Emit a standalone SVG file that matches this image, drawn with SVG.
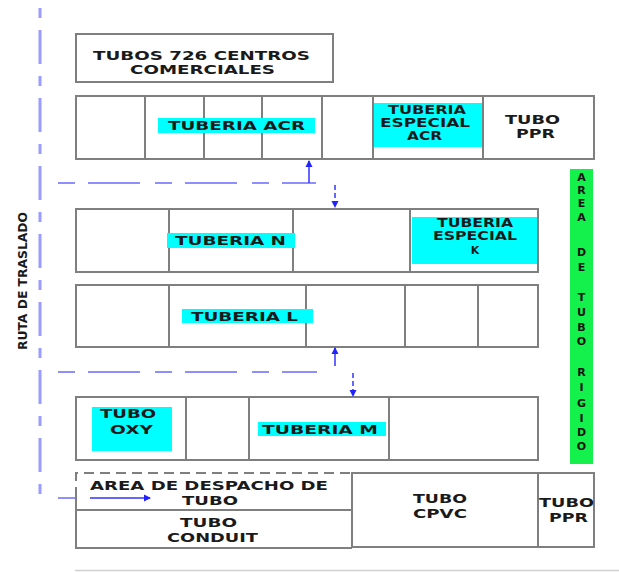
<svg xmlns="http://www.w3.org/2000/svg" width="619" height="572" viewBox="0 0 619 572">
<defs>
<style>
.box{fill:#fff;stroke:#7f7f7f;stroke-width:2}
.div{stroke:#7f7f7f;stroke-width:2;fill:none}
.cy{fill:#00ffff}
.t{font-family:"DejaVu Sans","Liberation Sans",sans-serif;font-weight:bold;font-size:12px;fill:#1a1a1a}
.g{font-family:"DejaVu Sans","Liberation Sans",sans-serif;font-weight:bold;font-size:11px;fill:#111;text-anchor:middle}
.route{stroke:#9a9aff;stroke-width:3;fill:none;stroke-dasharray:10 12 34 12}
.hdash{stroke:#6a6aff;stroke-width:1.5;fill:none;stroke-dasharray:17 13 52 15}
.arr{stroke:#3333ff;stroke-width:1.5;fill:none}
.arrd{stroke:#3333ff;stroke-width:1.5;fill:none;stroke-dasharray:5 3}
.dashbox{stroke:#7f7f7f;stroke-width:2;fill:none;stroke-dasharray:10 6}
</style>
<marker id="ah" markerWidth="8" markerHeight="8" refX="6" refY="4" orient="auto" markerUnits="userSpaceOnUse">
<path d="M0,0.5 L7,4 L0,7.5 Z" fill="#2222ff"/>
</marker>
</defs>
<rect width="619" height="572" fill="#fff"/>

<g id="ruta">
<line class="route" x1="40" y1="8" x2="40" y2="497"/>
<text class="t" transform="translate(27,350) rotate(-90)" x="0" y="0" textLength="138" lengthAdjust="spacingAndGlyphs" style="font-family:'DejaVu Sans Condensed','Liberation Sans',sans-serif;font-size:11.5px">RUTA DE TRASLADO</text>
</g>

<g id="centros">
<rect class="box" x="76" y="34" width="257" height="48"/>
<text class="t" x="93" y="59.5" textLength="217" lengthAdjust="spacingAndGlyphs">TUBOS 726 CENTROS</text>
<text class="t" x="130" y="73.5" textLength="145" lengthAdjust="spacingAndGlyphs">COMERCIALES</text>
</g>

<g id="fila-acr">
<rect class="box" x="76" y="96" width="518" height="63"/>
<rect class="cy" x="373" y="103" width="110" height="44"/>
<path class="div" d="M145,96V159M204,96V159M262,96V159M322,96V159M373,96V159M483,96V159"/>
<rect class="cy" x="158" y="118" width="157" height="15"/>
<text class="t" x="168" y="130" textLength="137" lengthAdjust="spacingAndGlyphs">TUBERIA ACR</text>
<text class="t" x="388" y="113.5" textLength="78" lengthAdjust="spacingAndGlyphs">TUBERIA</text>
<text class="t" x="380" y="127" textLength="90" lengthAdjust="spacingAndGlyphs">ESPECIAL</text>
<text class="t" x="407" y="139.5" textLength="35" lengthAdjust="spacingAndGlyphs">ACR</text>
<text class="t" x="505" y="123.5" textLength="55" lengthAdjust="spacingAndGlyphs">TUBO</text>
<text class="t" x="516" y="137.5" textLength="39" lengthAdjust="spacingAndGlyphs">PPR</text>
</g>

<g id="fila-n">
<rect class="box" x="76" y="209" width="462" height="63"/>
<rect class="cy" x="412" y="217" width="125" height="47"/>
<path class="div" d="M169,209V272M293,209V272M410,209V272"/>
<rect class="cy" x="167" y="233" width="128" height="15"/>
<text class="t" x="175" y="245" textLength="111" lengthAdjust="spacingAndGlyphs">TUBERIA N</text>
<text class="t" x="437" y="227" textLength="76" lengthAdjust="spacingAndGlyphs">TUBERIA</text>
<text class="t" x="433" y="239.5" textLength="84" lengthAdjust="spacingAndGlyphs">ESPECIAL</text>
<text class="t" x="475" y="253.5" text-anchor="middle" style="font-size:11px">K</text>
</g>

<g id="fila-l">
<rect class="box" x="76" y="285" width="462" height="62"/>
<path class="div" d="M169,285V347M306,285V347M405,285V347M478,285V347"/>
<rect class="cy" x="182" y="309" width="131" height="14"/>
<text class="t" x="191" y="320.5" textLength="107" lengthAdjust="spacingAndGlyphs">TUBERIA L</text>
</g>

<g id="fila-m">
<rect class="box" x="76" y="397" width="462" height="63"/>
<path class="div" d="M186,397V460M249,397V460M389,397V460"/>
<rect class="cy" x="92" y="407" width="80" height="44"/>
<text class="t" x="100" y="417.5" textLength="56" lengthAdjust="spacingAndGlyphs">TUBO</text>
<text class="t" x="110" y="433.5" textLength="43" lengthAdjust="spacingAndGlyphs">OXY</text>
<rect class="cy" x="258" y="422" width="128" height="14"/>
<text class="t" x="262" y="433.5" textLength="116" lengthAdjust="spacingAndGlyphs">TUBERIA M</text>
</g>

<g id="area-rigido">
<rect x="570" y="169" width="23" height="295" fill="#14f04c"/>
<text class="g" x="581.5" y="181">A</text>
<text class="g" x="581.5" y="194">R</text>
<text class="g" x="581.5" y="207">E</text>
<text class="g" x="581.5" y="221">A</text>
<text class="g" x="581.5" y="256">D</text>
<text class="g" x="581.5" y="271">E</text>
<text class="g" x="581.5" y="301">T</text>
<text class="g" x="581.5" y="316">U</text>
<text class="g" x="581.5" y="331">B</text>
<text class="g" x="581.5" y="345">O</text>
<text class="g" x="581.5" y="376">R</text>
<text class="g" x="581.5" y="391">I</text>
<text class="g" x="581.5" y="407">G</text>
<text class="g" x="581.5" y="422">I</text>
<text class="g" x="581.5" y="436">D</text>
<text class="g" x="581.5" y="450">O</text>
</g>

<g id="despacho">
<path class="dashbox" d="M76,497V473H350"/>
<path class="div" d="M76,497V548H352M76,510H352"/>
<text class="t" x="90" y="489.5" textLength="238" lengthAdjust="spacingAndGlyphs">AREA DE DESPACHO DE</text>
<text class="t" x="182" y="504.5" textLength="56" lengthAdjust="spacingAndGlyphs">TUBO</text>
<text class="t" x="180" y="526.5" textLength="57" lengthAdjust="spacingAndGlyphs">TUBO</text>
<text class="t" x="167" y="541.5" textLength="91" lengthAdjust="spacingAndGlyphs">CONDUIT</text>
</g>

<g id="cpvc">
<rect class="box" x="352" y="473" width="186" height="74"/>
<text class="t" x="413" y="502.5" textLength="54" lengthAdjust="spacingAndGlyphs">TUBO</text>
<text class="t" x="413" y="517.5" textLength="54" lengthAdjust="spacingAndGlyphs">CPVC</text>
</g>

<g id="ppr-bajo">
<rect class="box" x="538" y="473" width="56" height="74"/>
<text class="t" x="539" y="506.5" textLength="55" lengthAdjust="spacingAndGlyphs">TUBO</text>
<text class="t" x="549" y="521.5" textLength="39" lengthAdjust="spacingAndGlyphs">PPR</text>
</g>

<g id="connectors">
<line class="hdash" x1="58" y1="183" x2="316" y2="183"/>
<line class="arr" x1="309" y1="183" x2="309" y2="161" marker-end="url(#ah)"/>
<line class="arrd" x1="335" y1="185" x2="335" y2="207" marker-end="url(#ah)"/>
<line class="hdash" x1="58" y1="372" x2="317" y2="372"/>
<line class="arr" x1="335" y1="366" x2="335" y2="348" marker-end="url(#ah)"/>
<line class="arrd" x1="353" y1="373" x2="353" y2="396" marker-end="url(#ah)"/>
<path d="M58,498H75" stroke="#6a6aff" stroke-width="1.5" fill="none"/>
<line class="arr" x1="90" y1="498" x2="150" y2="498" marker-end="url(#ah)"/>
</g>

<line x1="75" y1="570.5" x2="619" y2="570.5" stroke="#d0d0d0" stroke-width="1.5"/>
</svg>
